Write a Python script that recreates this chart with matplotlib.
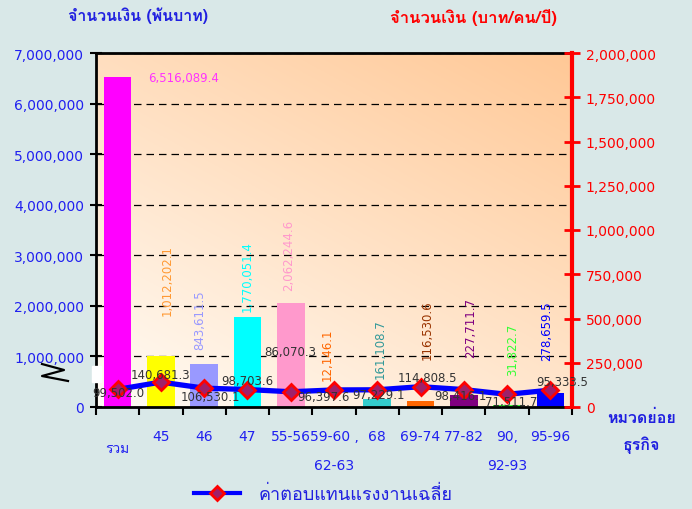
import numpy as np
import matplotlib
matplotlib.use("Agg")
import matplotlib.pyplot as plt
from matplotlib import font_manager
from matplotlib.ft2font import FT2Font
from matplotlib.lines import Line2D
from matplotlib.ticker import FuncFormatter, FixedLocator

# ข้อมูล
categories = ["รวม", "45", "46", "47", "55-56", "59-60 ,\n62-63", "68",
              "69-74", "77-82", "90,\n92-93", "95-96"]
amount_thousand = [6516089.4, 1012202.1, 843611.5, 1770051.4, 2062244.6,
                   12146.1, 161108.7, 116530.6, 227711.7, 31822.7, 278659.5]
avg_pay = [99502.0, 140681.3, 106530.1, 98703.6, 86070.3, 96397.6,
           97229.1, 114808.5, 98416.1, 71511.7, 95333.5]

bar_colors = ["#FF00FF", "#FFFF00", "#9999FF", "#00FFFF", "#FF99CC", "#FF6600",
              "#33CCCC", "#FF6600", "#800080", "#33FF33", "#0000FF"]
label_colors = ["#FF33FF", "#FF9933", "#9999FF", "#00FFFF", "#FF99CC", "#FF6600",
                "#339999", "#993300", "#800080", "#33FF33", "#0000FF"]
# offsets (pixels) for labels
bar_lbl_off = [(0, 0), (6, 41), (-4, 15), (0, 6), (-2, 13), (-7, 26),
               (3, 21), (7, 42), (7, 38), (6, 30), (-4, 33)]
line_lbl_off = [(1, -3), (0, 8), (6, -8), (0, 9), (0, 40), (-11, -7),
                (1, -5), (7, 9), (-3, -6), (4, -7), (12, 9)]


def find_thai_font():
    for f in font_manager.fontManager.ttflist:
        try:
            if 0x0E08 in FT2Font(f.fname).get_charmap():
                return f.name
        except Exception:
            pass
    return "DejaVu Sans"


thai = find_thai_font()
plt.rcParams["font.family"] = ["DejaVu Sans", thai]
thai_fam = [thai, "DejaVu Sans"]

BG = "#D9E8E8"
BLUE = "#2020F0"

fig = plt.figure(figsize=(6.92, 5.10), dpi=100, facecolor=BG)
ax = fig.add_axes([96 / 692, 102 / 510, 476 / 692, 354 / 510])

# พื้นหลังไล่สี
n = 200
xx, yy = np.meshgrid(np.linspace(0, 1, n), np.linspace(0, 1, n))
t = np.clip((xx * 0.55 + yy * 0.75) / 1.3, 0, 1)[..., None]
c0 = np.array([255, 252, 246]) / 255
c1 = np.array([255, 200, 150]) / 255
grad = c0 * (1 - t) + c1 * t
ax.imshow(grad, extent=[0, 1, 0, 1], transform=ax.transAxes, origin="lower",
          aspect="auto", zorder=0)

x = np.arange(len(categories))
ax.bar(x, amount_thousand, width=0.64, color=bar_colors, zorder=2)
ax.set_xlim(-0.5, len(categories) - 0.5)
ax.set_ylim(0, 7000000)
ax.yaxis.set_major_locator(FixedLocator(np.arange(0, 7000001, 1000000)))
ax.yaxis.set_major_formatter(FuncFormatter(lambda v, p: f"{v:,.0f}"))
ax.grid(axis="y", color="black", linestyle=(0, (6, 4)), linewidth=0.9, zorder=1)
ax.set_axisbelow(True)
ax.tick_params(axis="y", colors="black", labelcolor=BLUE, labelsize=10,
               direction="inout", length=9, width=1.5, pad=4)

xlabels = [""] + categories[1:]
ax.set_xticks(x)
ax.set_xticklabels(xlabels, color=BLUE, fontsize=10, linespacing=2.3,
                   va="top")
ax.set_xticks(np.arange(-0.5, len(categories)), minor=True)
ax.tick_params(axis="x", which="major", length=0, pad=16)
ax.tick_params(axis="x", which="minor", length=6, width=1.5, direction="out",
               color="black")
ax.annotate(categories[0], (0, 0), xycoords=("data", "axes fraction"),
            xytext=(0, -42), textcoords="offset pixels", ha="center",
            va="center", color=BLUE, fontsize=10, family=thai_fam)

for s in ["left", "top", "bottom"]:
    ax.spines[s].set_linewidth(2)
    ax.spines[s].set_color("black")

# ป้ายค่าแท่ง
for i, v in enumerate(amount_thousand):
    if i == 0:
        ax.annotate(f"{v:,.1f}", (i, v), xytext=(30, 0), textcoords="offset pixels",
                    color=label_colors[i], fontsize=8.5, ha="left", va="center",
                    zorder=5)
        continue
    dx, dy = bar_lbl_off[i]
    ax.annotate(f"{v:,.1f}", (i, v), xytext=(dx, dy), textcoords="offset pixels",
                color=label_colors[i], fontsize=8.5, rotation=90, ha="center",
                va="bottom", zorder=5)

# แกนขวา
ax2 = ax.twinx()
ax2.set_ylim(0, 2000000)
ax2.yaxis.set_major_locator(FixedLocator(np.arange(0, 2000001, 250000)))
ax2.yaxis.set_major_formatter(FuncFormatter(lambda v, p: f"{v:,.0f}"))
ax2.tick_params(axis="y", colors="red", labelcolor="red", labelsize=10,
                direction="inout", length=12, width=2, pad=4)
ax2.spines["right"].set_color("red")
ax2.spines["right"].set_linewidth(3)
for s in ["left", "top", "bottom"]:
    ax2.spines[s].set_visible(False)

ax2.plot(x, avg_pay, color="#0000FF", linewidth=3.8, marker="D", markersize=8,
         markerfacecolor="#A0206A", markeredgecolor="red", markeredgewidth=2,
         zorder=4)
for i, v in enumerate(avg_pay):
    dx, dy = line_lbl_off[i]
    ax2.annotate(f"{v:,.1f}", (i, v), xytext=(dx, dy), textcoords="offset pixels",
                 color="#333333", fontsize=8.5, ha="center", va="center", zorder=6)

# ชื่อแกน
fig.text(68 / 692, 1 - 16 / 510, "จำนวนเงิน (พันบาท)", color="#2020E0",
         fontsize=11.5, fontweight="bold", ha="left", va="center", family=thai_fam)
fig.text(390 / 692, 1 - 18 / 510, "จำนวนเงิน (บาท/คน/ปี)", color="red",
         fontsize=12, fontweight="bold", ha="left", va="center", family=thai_fam)
fig.text(642 / 692, 1 - 418 / 510, "หมวดย่อย", color="#2020E0", fontsize=11.5,
         fontweight="bold", ha="center", va="center", family=thai_fam)
fig.text(641 / 692, 1 - 445 / 510, "ธุรกิจ", color="#2020E0", fontsize=11.5,
         fontweight="bold", ha="center", va="center", family=thai_fam)

# สัญลักษณ์ตัดแกน
fig.patches.append(plt.Rectangle((92 / 692, 1 - 383 / 510), 9 / 692, 16 / 510,
                                 transform=fig.transFigure, color="white",
                                 zorder=10))
zx = np.array([42, 64, 42, 68]) / 692
zy = 1 - np.array([365, 371, 377, 382]) / 510
fig.add_artist(Line2D(zx, zy, color="black", linewidth=1.6,
                      transform=fig.transFigure))

# คำอธิบาย
handle = Line2D([], [], color="#0000FF", linewidth=3, marker="D", markersize=7,
                markerfacecolor="#A0206A", markeredgecolor="red",
                markeredgewidth=2)
leg = fig.legend([handle], ["ค่าตอบแทนแรงงานเฉลี่ย"], loc="center",
                 bbox_to_anchor=(323 / 692, 1 - 495 / 510), frameon=False,
                 handlelength=2.6, handletextpad=1.0,
                 prop={"family": thai_fam, "size": 13})
for txt in leg.get_texts():
    txt.set_color("#2020E0")

fig.savefig("out.png", dpi=100, facecolor=BG)
